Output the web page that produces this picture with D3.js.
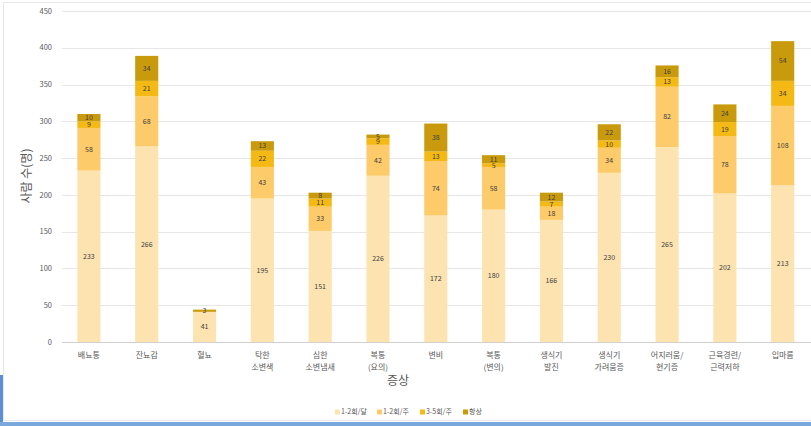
<!DOCTYPE html>
<html>
<head>
<meta charset="utf-8">
<script src="https://cdn.jsdelivr.net/npm/d3@7"></script>
<style>
  body { margin: 0; background: #fff; }
  text { font-family: "Noto Sans CJK KR", "Noto Sans", sans-serif; }
</style>
</head>
<body>
<svg width="811" height="426"></svg>
<script>
var categories = ["배뇨통", "잔뇨감", "혈뇨", "탁한\n소변색", "심한\n소변냄새", "복통\n(요의)", "변비",
                  "복통\n(변의)", "생식기\n발진", "생식기\n가려움증", "어지러움/\n현기증", "근육경련/\n근력저하", "입마름"];
var seriesNames = ["1-2회/달", "1-2회/주", "3-5회/주", "항상"];
var perMonth  = [233, 266, 41, 195, 151, 226, 172, 180, 166, 230, 265, 202, 213];
var perWeek12 = [58, 68, 0, 43, 33, 42, 74, 58, 18, 34, 82, 78, 108];
var perWeek35 = [9, 21, 0, 22, 11, 9, 13, 5, 7, 10, 13, 19, 34];
var always    = [10, 34, 3, 13, 8, 5, 38, 11, 12, 22, 16, 24, 54];
var yTicks = [0, 50, 100, 150, 200, 250, 300, 350, 400, 450];
var colors = ["#fde3b0", "#fdcb6a", "#f5b915", "#c99b0c"];

var svg = d3.select("svg");

// frame (screenshot border)
svg.append("rect").attr("x", 3.5).attr("y", 2.5).attr("width", 812).attr("height", 418)
    .attr("fill", "none").attr("stroke", "#e8e8e8");
svg.append("rect").attr("x", 0).attr("y", 375).attr("width", 3).attr("height", 51).attr("fill", "#5b8fd1");
svg.append("rect").attr("x", 0).attr("y", 422).attr("width", 811).attr("height", 4).attr("fill", "#7aa7dc");

var data = categories.map(function(c, i) {
  return {cat: c, s0: perMonth[i], s1: perWeek12[i], s2: perWeek35[i], s3: always[i]};
});
var keys = ["s0", "s1", "s2", "s3"];
var stacked = d3.stack().keys(keys)(data);

var x = d3.scaleBand().domain(categories).range([60, 811.6]).paddingInner(0.6).paddingOuter(0.3);
var y = d3.scaleLinear().domain([0, 450]).range([342, 11]);

// gridlines
svg.append("g").selectAll("line").data(yTicks).enter().append("line")
    .attr("x1", 62).attr("x2", 811)
    .attr("y1", function(d) { return Math.round(y(d)) + 0.5; })
    .attr("y2", function(d) { return Math.round(y(d)) + 0.5; })
    .attr("stroke", function(d) { return d === 0 ? "#d0d0d0" : "#e6e6e6"; });

svg.append("g").selectAll("text").data(yTicks).enter().append("text")
    .attr("x", 52).attr("y", function(d) { return y(d); })
    .attr("dy", "0.35em").attr("text-anchor", "end")
    .attr("font-size", "7.5px").attr("fill", "#595959")
    .text(function(d) { return d; });

// bars
var layer = svg.append("g").selectAll("g").data(stacked).enter().append("g")
    .attr("fill", function(d, i) { return colors[i]; });
layer.selectAll("rect").data(function(d) { return d; }).enter().append("rect")
    .attr("x", function(d) { return x(d.data.cat); })
    .attr("width", x.bandwidth())
    .attr("y", function(d) { return y(d[1]); })
    .attr("height", function(d) { return y(d[0]) - y(d[1]); });

layer.selectAll("text").data(function(d) { return d; }).enter()
    .filter(function(d) { return d[1] - d[0] > 0; })
    .append("text")
    .attr("x", function(d) { return x(d.data.cat) + x.bandwidth() / 2; })
    .attr("y", function(d) { return (y(d[0]) + y(d[1])) / 2; })
    .attr("dy", "0.35em").attr("text-anchor", "middle")
    .attr("font-size", "7px").attr("fill", "#404040")
    .text(function(d) { return d[1] - d[0]; });

// x labels
var xl = svg.append("g").selectAll("text").data(categories).enter().append("text")
    .attr("x", function(d) { return x(d) + x.bandwidth() / 2; })
    .attr("y", 355).attr("text-anchor", "middle")
    .attr("font-size", "8px").attr("fill", "#595959");
xl.selectAll("tspan").data(function(d) { return d.split("\n"); }).enter().append("tspan")
    .attr("x", function() { var p = d3.select(this.parentNode).datum(); return x(p) + x.bandwidth() / 2; })
    .attr("dy", function(d, i) { return i === 0 ? "0.35em" : "1.55em"; })
    .text(function(d) { return d; });

// axis titles
svg.append("text").attr("transform", "translate(31,176) rotate(-90)")
    .attr("text-anchor", "middle").attr("font-size", "12px").attr("fill", "#595959")
    .text("사람 수(명)");
svg.append("text").attr("x", 398).attr("y", 385).attr("text-anchor", "middle")
    .attr("font-size", "12px").attr("fill", "#595959").text("증상");

// legend
var lx = [335, 377, 420, 463];
var lg = svg.append("g").selectAll("g").data(seriesNames).enter().append("g")
    .attr("transform", function(d, i) { return "translate(" + lx[i] + ",412)"; });
lg.append("rect").attr("x", 0).attr("y", -2.5).attr("width", 5).attr("height", 5)
    .attr("fill", function(d, i) { return colors[i]; });
lg.append("text").attr("x", 6).attr("dy", "0.35em").attr("font-size", "7px").attr("fill", "#595959")
    .text(function(d) { return d; });
</script>
</body>
</html>
